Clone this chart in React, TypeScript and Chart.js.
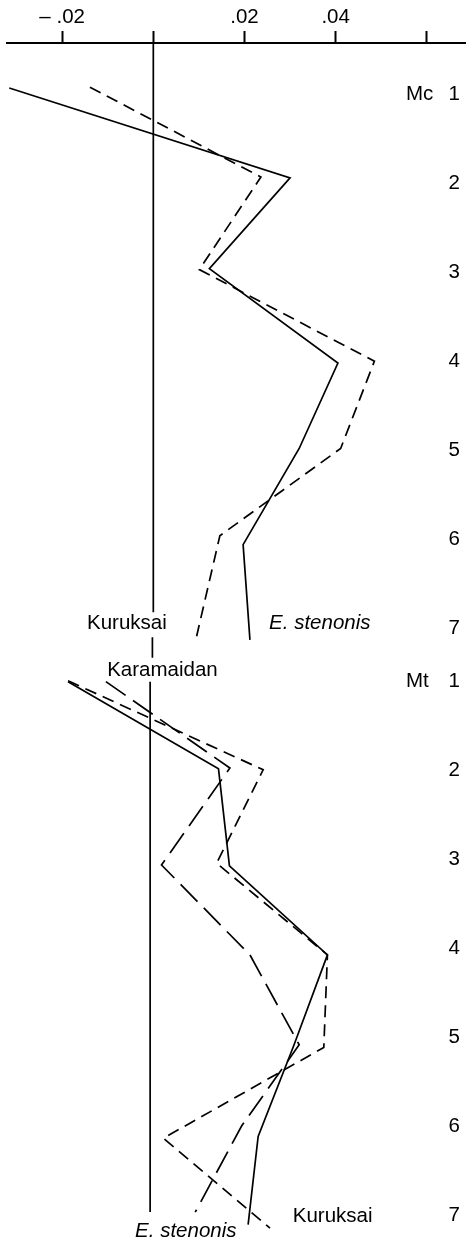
import React, { useEffect, useRef } from "react";
import { Chart, registerables } from "chart.js";

Chart.register(...registerables);

// ---- axis ----
const xTickValues = [-0.02, 0, 0.02, 0.04, 0.06];
const xTickLabels = ["\u2013 .02", "", ".02", ".04", ""];
const xMin = -0.0321;
const xMax = 0.0686;
const yMin = 0.424;
const yMax = 13.851;

// ---- rows ----
const rowNumbers = ["1", "2", "3", "4", "5", "6", "7"];
const mcRowPos = [1, 2, 3, 4, 5, 6, 7];
const mtRowPos = [7.6, 8.6, 9.6, 10.6, 11.6, 12.6, 13.6];

// ---- Mc section ----
const mcSolidX = [-0.0316, 0.03, 0.0123, 0.0405, 0.032, 0.0197, 0.0212];
const mcSolidY = [0.93, 1.94, 2.96, 4.02, 4.98, 6.06, 7.13];
const mcDashX = [-0.0139, 0.0236, 0.0101, 0.0485, 0.0411, 0.0146, 0.0095];
const mcDashY = [0.92, 1.93, 2.97, 4.0, 4.98, 5.96, 7.09];

// ---- Mt section ----
const mtSolidX = [-0.0187, 0.0143, 0.0167, 0.0382, 0.0308, 0.023, 0.0208];
const mtSolidY = [7.6, 8.58, 9.67, 10.67, 11.69, 12.71, 13.7];
const mtDashX = [-0.0187, 0.0241, 0.0139, 0.0382, 0.0374, 0.0022, 0.0256];
const mtDashY = [7.59, 8.59, 9.64, 10.67, 11.71, 12.73, 13.74];
const mtLongX = [-0.0104, 0.0168, 0.0018, 0.0212, 0.032, 0.0194, 0.0092];
const mtLongY = [7.6, 8.57, 9.66, 10.67, 11.68, 12.59, 13.56];

// ---- reference (zero) line, broken by labels ----
const refX = [0, -0.0002, -0.0007];
const refStart = [0.424, 7.1, 7.6];
const refEnd = [6.82, 7.33, 13.56];

// ---- annotations ----
const noteTexts = ["Kuruksai", "E. stenonis", "Karamaidan", "Kuruksai", "E. stenonis"];
const noteX = [-0.0058, 0.0254, 0.002, 0.0306, -0.004];
const noteY = [6.94, 6.94, 7.47, 13.61, 13.78];
const noteAlign: CanvasTextAlign[] = ["center", "left", "center", "left", "left"];
const noteItalic = [false, true, false, false, true];

const FONT = "'Liberation Sans', Arial, Helvetica, sans-serif";
const FONT_SIZE = 20.5;

const pts = (xs: number[], ys: number[]) => xs.map((x, i) => ({ x, y: ys[i] }));

const lineDs = (data: { x: number; y: number }[], dash: number[]) => ({
  type: "line" as const,
  data,
  borderColor: "#000",
  borderWidth: 1.7,
  borderDash: dash,
  pointRadius: 0,
  fill: false,
  tension: 0,
  clip: false as const,
});

const SHORT = [12, 7];
const LONG = [24, 9];

const labelsPlugin = {
  id: "labelsPlugin",
  afterDatasetsDraw(chart: any) {
    const { ctx, scales, chartArea } = chart;
    const xs = scales.x;
    const ys = scales.y;
    ctx.save();
    ctx.fillStyle = "#000";
    ctx.textBaseline = "middle";
    noteTexts.forEach((t, i) => {
      ctx.font = `${noteItalic[i] ? "italic " : ""}${FONT_SIZE}px ${FONT}`;
      ctx.textAlign = noteAlign[i];
      ctx.fillText(t, xs.getPixelForValue(noteX[i]), ys.getPixelForValue(noteY[i]));
    });
    ctx.font = `${FONT_SIZE}px ${FONT}`;
    ctx.textAlign = "left";
    const drawRows = (pos: number[], prefix: string) => {
      pos.forEach((p, i) => {
        const y = ys.getPixelForValue(p);
        ctx.fillText(rowNumbers[i], chartArea.right - 17.5, y);
        if (i === 0) ctx.fillText(prefix, chartArea.right - 60, y);
      });
    };
    drawRows(mcRowPos, "Mc");
    drawRows(mtRowPos, "Mt");
    ctx.restore();
  },
};

export default function App() {
  const ref = useRef<HTMLCanvasElement>(null);
  useEffect(() => {
    if (!ref.current) return;
    const refDatasets = refX.map((x, i) =>
      lineDs(
        [
          { x, y: refStart[i] },
          { x, y: refEnd[i] },
        ],
        []
      )
    );
    const chart = new Chart(ref.current, {
      type: "line",
      data: {
        datasets: [
          ...refDatasets,
          lineDs(pts(mcSolidX, mcSolidY), []),
          lineDs(pts(mcDashX, mcDashY), SHORT),
          lineDs(pts(mtSolidX, mtSolidY), []),
          lineDs(pts(mtDashX, mtDashY), SHORT),
          lineDs(pts(mtLongX, mtLongY), LONG),
        ],
      },
      options: {
        animation: false,
        responsive: false,
        devicePixelRatio: 1,
        layout: { padding: { left: 7, right: 0, top: 0, bottom: 0 } },
        plugins: { legend: { display: false }, tooltip: { enabled: false } },
        scales: {
          x: {
            type: "linear",
            position: "top",
            min: xMin,
            max: xMax,
            afterBuildTicks: (scale: any) => {
              scale.ticks = xTickValues.map((v) => ({ value: v }));
            },
            afterFit: (scale: any) => {
              scale.height = 43;
            },
            ticks: {
              autoSkip: false,
              maxRotation: 0,
              padding: 1,
              color: "#000",
              font: { family: FONT, size: FONT_SIZE },
              callback: (v: any) => {
                const i = xTickValues.findIndex((t) => Math.abs(t - Number(v)) < 1e-9);
                return i >= 0 ? xTickLabels[i] : "";
              },
            },
            grid: {
              display: true,
              drawOnChartArea: false,
              drawTicks: true,
              tickLength: 12,
              tickWidth: 2,
              tickColor: "#000",
            },
            border: { display: true, color: "#000", width: 2 },
          },
          y: {
            type: "linear",
            display: false,
            reverse: true,
            min: yMin,
            max: yMax,
          },
        },
      },
      plugins: [labelsPlugin],
    });
    return () => chart.destroy();
  }, []);
  return (
    <div style={{ position: "absolute", left: 0, top: 0, width: 466, height: 1238, background: "#fff" }}>
      <canvas ref={ref} width={466} height={1238} style={{ display: "block" }} />
    </div>
  );
}
